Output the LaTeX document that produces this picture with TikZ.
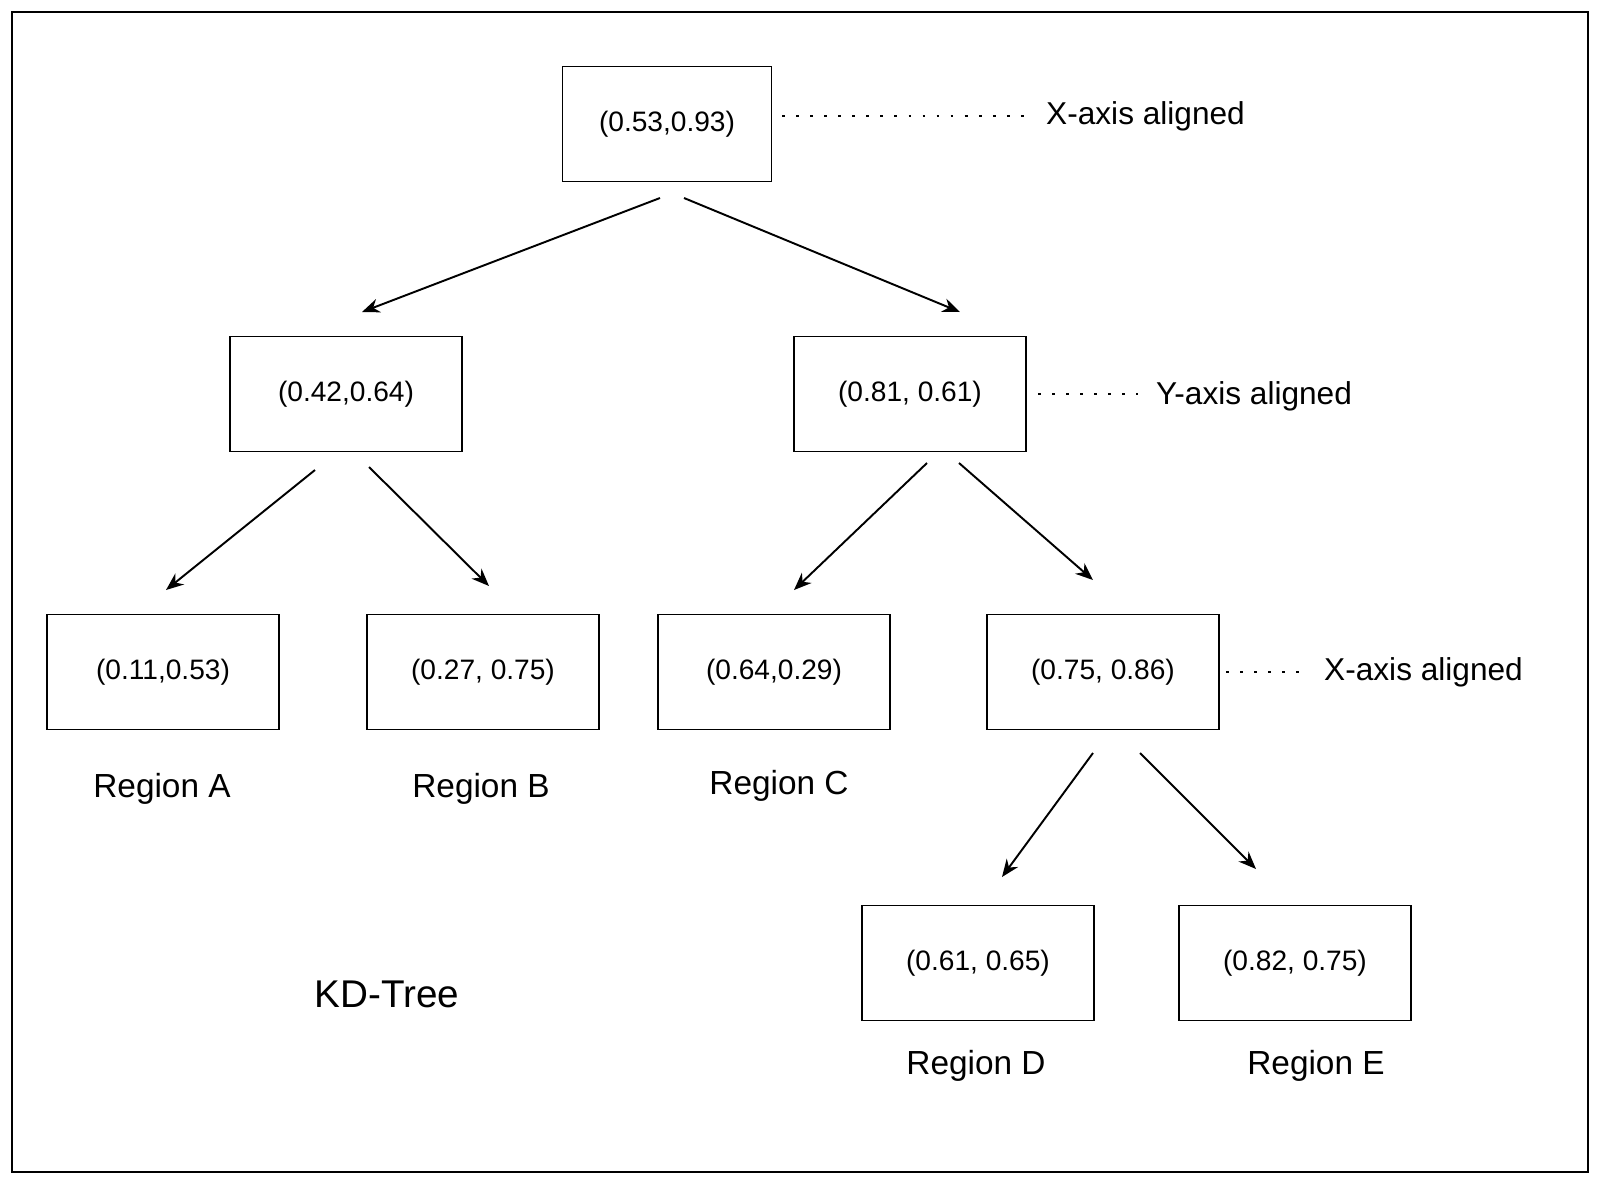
\documentclass[tikz,border=0pt]{standalone}
\usepackage{fontspec}
\setmainfont{Liberation Sans}
\usetikzlibrary{arrows.meta}
\begin{document}
\begin{tikzpicture}[x=0.02cm,y=-0.02cm,
 box/.style={draw,line width=1.1pt,minimum width=4.64cm,minimum height=2.3cm,inner sep=0pt,font=\fontsize{16}{18}\selectfont},
 arr/.style={line width=1.1pt,-{Stealth[length=10pt,width=8pt]}},
 dot/.style={line width=1.6pt,dash pattern=on 1.6pt off 6.4pt},
 lab/.style={font=\fontsize{19}{22}\selectfont},
 ax/.style={anchor=west,font=\fontsize{18}{21}\selectfont}]
\useasboundingbox (0,0) rectangle (1600,1184);
\draw[line width=1.1pt] (12,12) rectangle (1588,1172);
\node[box,minimum width=4.18cm] (r) at (667,124) {(0.53,0.93)};
\node[box] (l1) at (346,394) {(0.42,0.64)};
\node[box] (r1) at (910,394) {(0.81, 0.61)};
\node[box] (a) at (163,672) {(0.11,0.53)};
\node[box] (b) at (483,672) {(0.27, 0.75)};
\node[box] (c) at (774,672) {(0.64,0.29)};
\node[box] (d1) at (1103,672) {(0.75, 0.86)};
\node[box] (d) at (978,963) {(0.61, 0.65)};
\node[box] (e) at (1295,963) {(0.82, 0.75)};
\coordinate (s1) at (660,198); \coordinate (t1) at (362,312);
\coordinate (s2) at (684,198); \coordinate (t2) at (960,312);
\coordinate (s3) at (315,470); \coordinate (t3) at (166,590);
\coordinate (s4) at (369,467); \coordinate (t4) at (489,586);
\coordinate (s5) at (927,463); \coordinate (t5) at (794,590);
\coordinate (s6) at (959,463); \coordinate (t6) at (1093,580);
\coordinate (s7) at (1093,753); \coordinate (t7) at (1002,877);
\coordinate (s8) at (1140,753); \coordinate (t8) at (1256,869);
\foreach \i in {1,...,8} \draw[arr] (s\i) -- (t\i);
\coordinate (p1) at (782,116); \coordinate (q1) at (1030,116);
\coordinate (p2) at (1038,394); \coordinate (q2) at (1138,394);
\coordinate (p3) at (1226,672); \coordinate (q3) at (1306,672);
\foreach \i in {1,2,3} \draw[dot] (p\i) -- (q\i);
\node[ax] (x1) at (1040,116) {X-axis aligned};
\node[ax] (y1) at (1150,396) {Y-axis aligned};
\node[ax] (x2) at (1318,672) {X-axis aligned};
\node[lab] (ra) at (162,789) {Region A};
\node[lab] (rb) at (481,789) {Region B};
\node[lab] (rc) at (779,786) {Region C};
\node[lab] (rd) at (976,1066) {Region D};
\node[lab] (re) at (1316,1066) {Region E};
\node[font=\fontsize{22}{26}\selectfont] (kd) at (387,994) {KD-Tree};
\end{tikzpicture}
\end{document}
